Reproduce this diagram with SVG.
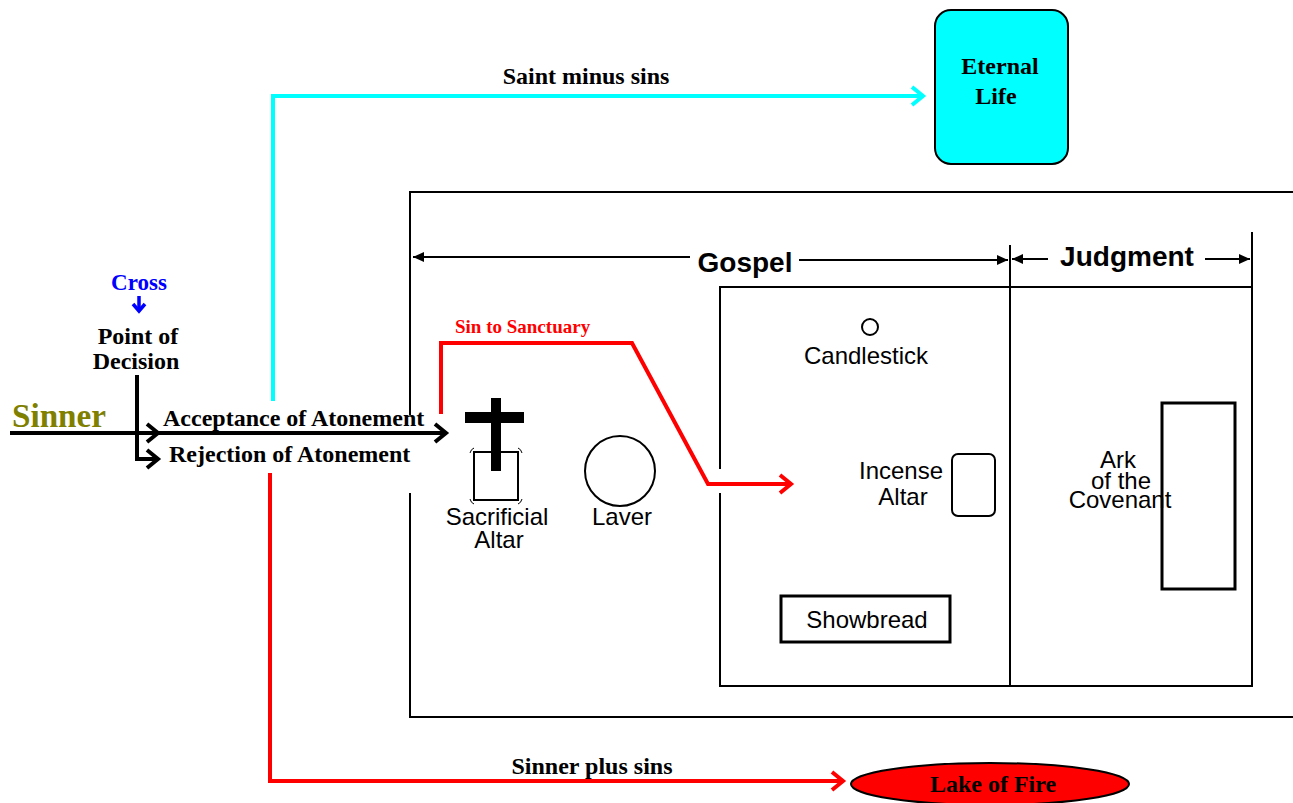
<svg xmlns="http://www.w3.org/2000/svg" width="1293" height="803" viewBox="0 0 1293 803">
<style>
  .serif { font-family: "Liberation Serif", "Times New Roman", serif; font-weight: bold; }
  .sans { font-family: "Liberation Sans", Arial, sans-serif; }
  .lbl { font-size: 24px; fill: #000; }
  .wall { fill: none; stroke: #000; stroke-width: 2; }
  .furn { fill: #fff; stroke: #000; stroke-width: 2; }
  .thick { fill: none; stroke: #000; stroke-width: 3; }
  .c-black { fill: none; stroke: #000; stroke-width: 4; }
  .c-cyan { fill: none; stroke: #00FFFF; stroke-width: 4; }
  .c-red { fill: none; stroke: #FF0000; stroke-width: 4; }
  .dim { fill: none; stroke: #000; stroke-width: 2; }
  .tick { fill: none; stroke: #000; stroke-width: 1; }
</style>
<defs>
  <marker id="chev-black" viewBox="-14 -11 16 22" markerWidth="16" markerHeight="22" refX="0" refY="0" orient="auto" markerUnits="userSpaceOnUse" overflow="visible">
    <path d="M -11 -9 L 0 0 L -11 9" fill="none" stroke="#000" stroke-width="4" stroke-linejoin="miter"/>
  </marker>
  <marker id="chev-cyan" viewBox="-14 -11 16 22" markerWidth="16" markerHeight="22" refX="0" refY="0" orient="auto" markerUnits="userSpaceOnUse" overflow="visible">
    <path d="M -11 -9 L 0 0 L -11 9" fill="none" stroke="#00FFFF" stroke-width="4"/>
  </marker>
  <marker id="chev-red" viewBox="-14 -11 16 22" markerWidth="16" markerHeight="22" refX="0" refY="0" orient="auto" markerUnits="userSpaceOnUse" overflow="visible">
    <path d="M -11 -9 L 0 0 L -11 9" fill="none" stroke="#FF0000" stroke-width="4"/>
  </marker>
  <marker id="chev-blue" viewBox="-10 -8 12 16" markerWidth="12" markerHeight="16" refX="0" refY="0" orient="auto" markerUnits="userSpaceOnUse" overflow="visible">
    <path d="M -7 -6 L 0 0 L -7 6" fill="none" stroke="#0000FF" stroke-width="3.5"/>
  </marker>
  <marker id="tri" viewBox="-12 -6 13 12" markerWidth="13" markerHeight="12" refX="0" refY="0" orient="auto" markerUnits="userSpaceOnUse" overflow="visible">
    <path d="M -11 -5 L 0 0 L -11 5 Z" fill="#000"/>
  </marker>
</defs>

<rect width="1293" height="803" fill="#fff"/>

<!-- Outer court -->
<g id="outer-court">
  <path class="wall" d="M 1293 192 L 410 192 L 410 415"/>
  <path class="wall" d="M 410 493 L 410 717 L 1293 717"/>
</g>

<!-- Sanctuary -->
<g id="sanctuary">
  <path class="wall" d="M 720 469 L 720 287 L 1252 287 L 1252 686 L 720 686 L 720 493"/>
  <line class="wall" x1="1010" y1="245" x2="1010" y2="686"/>
  <line class="wall" x1="1252" y1="232" x2="1252" y2="287"/>
</g>

<!-- Gospel / Judgment header -->
<g id="gospel-label">
  <line class="dim" x1="690" y1="257" x2="413" y2="257" marker-end="url(#tri)"/>
  <text class="sans" x="745" y="272" font-size="28" font-weight="bold" text-anchor="middle">Gospel</text>
  <line class="dim" x1="799" y1="260" x2="1008" y2="260" marker-end="url(#tri)"/>
</g>
<g id="judgment-label">
  <line class="dim" x1="1048" y1="259" x2="1012" y2="259" marker-end="url(#tri)"/>
  <text class="sans" x="1127" y="266" font-size="28" font-weight="bold" text-anchor="middle">Judgment</text>
  <line class="dim" x1="1205" y1="259" x2="1250" y2="259" marker-end="url(#tri)"/>
</g>

<!-- Sacrificial altar -->
<g id="sacrificial-altar">
  <rect class="furn" x="474" y="452" width="44" height="48" stroke-width="1.5"/>
  <path class="tick" d="M 470 453 Q 471 449 474 448 M 522 453 Q 521 449 518 448 M 470 499 Q 471 503 474 504 M 522 499 Q 521 503 518 504"/>
  <rect x="491" y="398" width="10" height="73" fill="#000"/>
  <rect x="465" y="412" width="59" height="11" fill="#000"/>
  <text class="sans lbl" x="497" y="525" text-anchor="middle">Sacrificial</text>
  <text class="sans lbl" x="499" y="548" text-anchor="middle">Altar</text>
</g>

<!-- Laver -->
<g id="laver">
  <circle class="furn" cx="620" cy="471" r="35"/>
  <text class="sans lbl" x="622" y="525" text-anchor="middle">Laver</text>
</g>

<!-- Candlestick -->
<g id="candlestick">
  <circle class="furn" cx="870" cy="327" r="8"/>
  <text class="sans lbl" x="866" y="364" text-anchor="middle">Candlestick</text>
</g>

<!-- Incense altar -->
<g id="incense-altar">
  <rect class="furn" x="952" y="454" width="43" height="62" rx="6"/>
  <text class="sans lbl" x="901" y="479" text-anchor="middle">Incense</text>
  <text class="sans lbl" x="903" y="505" text-anchor="middle">Altar</text>
</g>

<!-- Showbread -->
<g id="showbread">
  <rect class="thick" x="781" y="596" width="169" height="46"/>
  <text class="sans lbl" x="867" y="628" text-anchor="middle">Showbread</text>
</g>

<!-- Ark of the Covenant -->
<g id="ark">
  <rect class="thick" x="1162" y="403" width="73" height="186"/>
  <text class="sans lbl" x="1118" y="468" text-anchor="middle">Ark</text>
  <text class="sans lbl" x="1121" y="489" text-anchor="middle">of the</text>
  <text class="sans lbl" x="1120" y="508" text-anchor="middle">Covenant</text>
</g>

<!-- Eternal Life -->
<g id="eternal-life">
  <rect x="935" y="10" width="133" height="154" rx="16" fill="#00FFFF" stroke="#000" stroke-width="2"/>
  <text class="serif lbl" x="1000" y="74" text-anchor="middle">Eternal</text>
  <text class="serif lbl" x="996" y="104" text-anchor="middle">Life</text>
</g>

<!-- Lake of Fire -->
<g id="lake-of-fire">
  <ellipse cx="990" cy="784" rx="139" ry="21" fill="#FF0000" stroke="#000" stroke-width="2"/>
  <text class="serif lbl" x="993" y="792" text-anchor="middle">Lake of Fire</text>
</g>

<!-- Left labels -->
<g id="sinner">
  <text class="serif" x="12" y="427" font-size="34" fill="#808000" textLength="94" lengthAdjust="spacingAndGlyphs">Sinner</text>
</g>
<g id="cross-label">
  <text class="serif" x="139" y="290" font-size="23" fill="#0000FF" text-anchor="middle">Cross</text>
</g>
<g id="point-of-decision">
  <text class="serif lbl" x="138" y="344" text-anchor="middle">Point of</text>
  <text class="serif lbl" x="136" y="369" text-anchor="middle">Decision</text>
</g>
<g id="acceptance-label">
  <text class="serif lbl" x="163" y="426">Acceptance of Atonement</text>
</g>
<g id="rejection-label">
  <text class="serif lbl" x="169" y="462">Rejection of Atonement</text>
</g>

<!-- Connectors -->
<g id="connectors">
  <line x1="139" y1="296" x2="139" y2="311" stroke="#0000FF" stroke-width="3.5" marker-end="url(#chev-blue)"/>
  <path class="c-black" d="M 10 433 L 446 433" marker-end="url(#chev-black)"/>
  <path class="c-black" d="M 137 375 L 137 459 L 158 459" marker-end="url(#chev-black)"/>
  <path class="c-black" d="M 137 433 L 158 433" marker-end="url(#chev-black)"/>
  <path class="c-cyan" d="M 273 401 L 273 96 L 923 96" marker-end="url(#chev-cyan)"/>
  <path class="c-red" d="M 270 473 L 270 781 L 843 781" marker-end="url(#chev-red)"/>
  <path class="c-red" d="M 441 414 L 441 343 L 632 343 L 708 484 L 791 484" marker-end="url(#chev-red)"/>
  <text class="serif" x="586" y="84" font-size="24" text-anchor="middle">Saint minus sins</text>
  <text class="serif" x="592" y="774" font-size="24" text-anchor="middle">Sinner plus sins</text>
  <text class="serif" x="455" y="333" font-size="19" fill="#FF0000">Sin to Sanctuary</text>
</g>
</svg>
